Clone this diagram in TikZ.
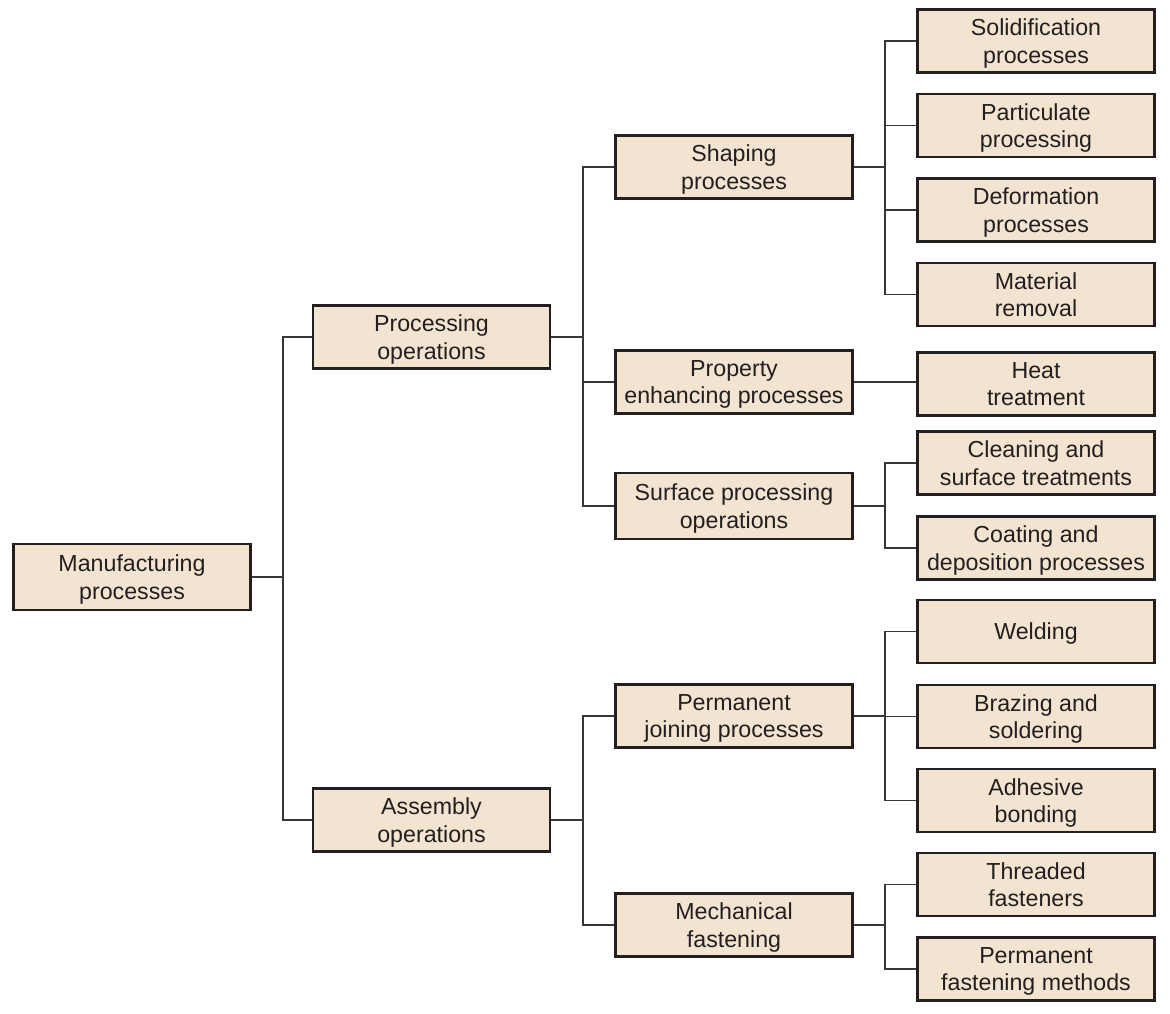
\documentclass[tikz,border=0pt]{standalone}
\usepackage{fontspec}
\setmainfont{Liberation Sans}
\definecolor{boxfill}{HTML}{F2E4D0}
\definecolor{ink}{HTML}{231F20}
\definecolor{wire}{HTML}{3A3637}
\begin{document}
\begin{tikzpicture}[x=1pt,y=-1pt,
  box/.style={draw=ink,fill=boxfill,line width=2.8pt,minimum width=237pt,minimum height=63pt,
    align=center,inner sep=0pt,text=ink,text depth=0pt,font=\fontsize{23.2}{27.5}\selectfont},
  wirestyle/.style={draw=wire,line width=1.4pt}]
\useasboundingbox (0,0) rectangle (1170,1014);
% level 0
\node[box,minimum height=66pt] (mp) at (132,577) {Manufacturing\\processes};
% level 1
\node[box] (po) at (431.5,337) {Processing\\operations};
\node[box] (ao) at (431.5,820) {Assembly\\operations};
% level 2
\node[box] (sp) at (734,167) {Shaping\\processes};
\node[box] (pe) at (734,382) {Property\\enhancing processes};
\node[box,minimum height=66pt] (sf) at (734,506) {Surface processing\\operations};
\node[box] (pj) at (734,716) {Permanent\\joining processes};
\node[box] (mf) at (734,925) {Mechanical\\fastening};
% level 3
\node[box] (so) at (1036,41) {Solidification\\processes};
\node[box] (pa) at (1036,125.5) {Particulate\\processing};
\node[box] (de) at (1036,210) {Deformation\\processes};
\node[box] (mr) at (1036,294.5) {Material\\removal};
\node[box] (ht) at (1036,384) {Heat\\treatment};
\node[box] (cl) at (1036,463) {Cleaning and\\surface treatments};
\node[box] (co) at (1036,548) {Coating and\\deposition processes};
\node[box] (we) at (1036,631.5) {Welding};
\node[box] (br) at (1036,716.5) {Brazing and\\soldering};
\node[box] (ad) at (1036,800.5) {Adhesive\\bonding};
\node[box] (th) at (1036,884.5) {Threaded\\fasteners};
\node[box] (pf) at (1036,969) {Permanent\\fastening methods};
% connectors
\draw[wirestyle] (mp.east) -- (283,577) coordinate (b0);
\draw[wirestyle] (b0) |- (po.west);
\draw[wirestyle] (b0) |- (ao.west);

\draw[wirestyle] (po.east) -- (583,337) coordinate (b1);
\draw[wirestyle] (b1) |- (sp.west);
\draw[wirestyle] (b1) |- (pe.west);
\draw[wirestyle] (b1) |- (sf.west);

\draw[wirestyle] (ao.east) -- (583,820) coordinate (b2);
\draw[wirestyle] (b2) |- (pj.west);
\draw[wirestyle] (b2) |- (mf.west);

\draw[wirestyle] (sp.east) -- (885,167) coordinate (b3);
\draw[wirestyle] (b3) |- (so.west);
\draw[wirestyle] (b3) |- (pa.west);
\draw[wirestyle] (b3) |- (de.west);
\draw[wirestyle] (b3) |- (mr.west);

\draw[wirestyle] (pe.east) -- (ht.west |- pe.east);

\draw[wirestyle] (sf.east) -- (885,506) coordinate (b4);
\draw[wirestyle] (b4) |- (cl.west);
\draw[wirestyle] (b4) |- (co.west);

\draw[wirestyle] (pj.east) -- (885,716) coordinate (b5);
\draw[wirestyle] (b5) |- (we.west);
\draw[wirestyle] (b5) |- (br.west);
\draw[wirestyle] (b5) |- (ad.west);

\draw[wirestyle] (mf.east) -- (885,925) coordinate (b6);
\draw[wirestyle] (b6) |- (th.west);
\draw[wirestyle] (b6) |- (pf.west);
\end{tikzpicture}
\end{document}
